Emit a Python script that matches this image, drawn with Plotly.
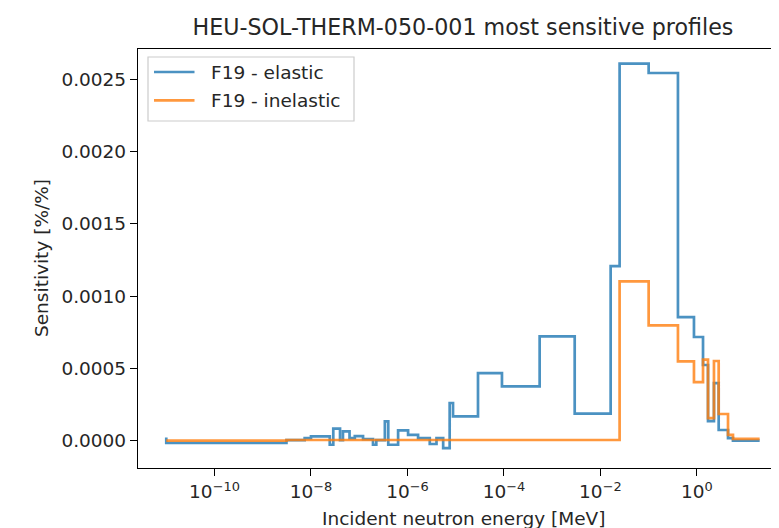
import plotly.graph_objects as go

# Energy grid points (MeV) and sensitivities; step drawn so value i applies to (E[i-1], E[i]]
elastic_E = [1e-11, 3.1e-9, 7.4e-9, 1e-8, 2.45e-8, 2.9e-8, 4.0e-8, 4.6e-8, 6.3e-8, 8.1e-8,
             1.2e-7, 1.93e-7, 2.26e-7, 3.4e-7, 4.0e-7, 6.4e-7, 1.03e-6, 1.66e-6, 2.9e-6, 4.0e-6,
             5.5e-6, 7.5e-6, 8.8e-6, 2.9e-5, 9.1e-5, 5.5e-4, 2.93e-3, 1.63e-2, 2.5e-2, 0.1,
             0.405, 0.87, 1.34, 1.7, 2.26, 2.83, 4.42, 5.6, 20]
elastic_S = [0.000022, -0.000017, 0.000003, 0.000017, 0.000029, -0.000029, 0.000082, 0.000003,
             0.000064, 0.000017, 0.000031, 0.00001, -0.000029, 0.000003, 0.000133, -0.000029,
             0.000071, 0.00004, 0.000017, -0.000024, 0.000017, -0.000052, 0.00026, 0.000168,
             0.000467, 0.000375, 0.000722, 0.000186, 0.001208, 0.00261, 0.002545, 0.000855,
             0.000717, 0.000523, 0.000135, 0.000398, 0.000073, 0.000017, -0.000001]

inelastic_E = [1e-11, 3.1e-9, 7.4e-9, 2.5e-2, 0.1, 0.405, 0.87, 1.34, 1.7, 2.26, 2.83, 4.42, 5.6, 20]
inelastic_S = [0.0, 0.0, 0.000004, 0.000004, 0.001102, 0.000798, 0.000548, 0.000405, 0.00056,
               0.000156, 0.000551, 0.000184, 0.00004, 0.000012]

series_names = ["F19 - elastic", "F19 - inelastic"]
series_colors = ["#1f77b4", "#ff7f0e"]
x_tick_vals = [1e-10, 1e-8, 1e-6, 1e-4, 1e-2, 1e0]
x_tick_text = ["10<sup>\u221210</sup>", "10<sup>\u22128</sup>", "10<sup>\u22126</sup>",
               "10<sup>\u22124</sup>", "10<sup>\u22122</sup>", "10<sup>0</sup>"]
y_tick_vals = [0.0, 0.0005, 0.0010, 0.0015, 0.0020, 0.0025]
y_tick_text = ["0.0000", "0.0005", "0.0010", "0.0015", "0.0020", "0.0025"]

FONT = "DejaVu Sans"
FS = 18.5
TXT = "#262626"

# plot area in pixels
L, R, T, B = 130, 779, 41, 460
W, H = R - L, B - T


def px(x):
    return (x - L) / W


def py(y):
    return (B - y) / H


fig = go.Figure()
for E, S, name, col in [(elastic_E, elastic_S, series_names[0], series_colors[0]),
                        (inelastic_E, inelastic_S, series_names[1], series_colors[1])]:
    fig.add_trace(go.Scatter(x=E, y=S, mode="lines", name=name, showlegend=False,
                             line=dict(color=col, width=2.7, shape="vh"), opacity=0.8))

shapes = []
annotations = []
# legend frame
shapes.append(dict(type="rect", xref="paper", yref="paper", x0=px(140), x1=px(346),
                   y0=py(113), y1=py(49), line=dict(color="#cccccc", width=1.2),
                   fillcolor="rgba(255,255,255,0.8)", layer="above"))
for i, (name, col) in enumerate(zip(series_names, series_colors)):
    yc = 64 + 28.3 * i
    shapes.append(dict(type="line", xref="paper", yref="paper", x0=px(146), x1=px(186.5),
                       y0=py(yc), y1=py(yc), line=dict(color=col, width=2.7), opacity=0.8,
                       layer="above"))
    annotations.append(dict(text=name, xref="paper", yref="paper", x=px(202), y=py(yc),
                            xanchor="left", yanchor="middle", showarrow=False, borderpad=0,
                            font=dict(family=FONT, size=FS, color=TXT)))

annotations.append(dict(text="Incident neutron energy [MeV]", xref="paper", yref="paper",
                        x=px(455), y=py(510), xanchor="center", yanchor="middle",
                        showarrow=False, font=dict(family=FONT, size=FS, color=TXT)))
annotations.append(dict(text="Sensitivity [%/%]", xref="paper", yref="paper", x=px(33),
                        y=py(250), xanchor="center", yanchor="middle", textangle=-90,
                        showarrow=False, font=dict(family=FONT, size=FS, color=TXT)))

fig.update_layout(
    width=779, height=528,
    margin=dict(l=L, r=779 - R, t=T, b=528 - B),
    plot_bgcolor="white", paper_bgcolor="white",
    showlegend=False,
    font=dict(family=FONT, size=FS, color=TXT),
    title=dict(text="HEU-SOL-THERM-050-001 most sensitive profiles", x=455 / 779,
               xref="container", xanchor="center", y=1 - 19 / 528, yref="container",
               yanchor="middle", font=dict(family=FONT, size=22.2, color=TXT)),
    xaxis=dict(type="log", range=[-11.586, 1.868], tickvals=x_tick_vals, ticktext=x_tick_text,
               showgrid=False, zeroline=False, showline=True, linecolor="black", linewidth=1.3,
               mirror=True, ticks="outside", ticklen=7, tickwidth=1.3, tickcolor="black",
               tickfont=dict(family=FONT, size=FS, color=TXT)),
    yaxis=dict(range=[-0.00019, 0.002711], tickvals=y_tick_vals, ticktext=y_tick_text,
               showgrid=False, zeroline=False, showline=True, linecolor="black", linewidth=1.3,
               mirror=False, ticks="outside", ticklen=7, tickwidth=1.3, tickcolor="black",
               tickfont=dict(family=FONT, size=FS, color=TXT)),
    shapes=shapes,
    annotations=annotations,
)

fig.write_html("out.html")
